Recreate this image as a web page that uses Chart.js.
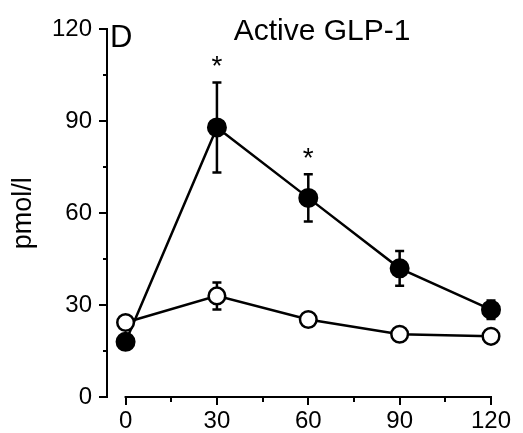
<!DOCTYPE html>
<html>
<head>
<meta charset="utf-8">
<script src="https://cdn.jsdelivr.net/npm/chart.js@4"></script>
<style>
  html, body { margin: 0; padding: 0; background: #fff; }
  #wrap { width: 523px; height: 433px; }
</style>
</head>
<body>
<div id="wrap"><canvas id="glp" width="523" height="433"></canvas></div>
<script>
// minutes after the meal
const times = [0, 30, 60, 90, 120];
// filled circles
const filledMean = [18, 88, 65, 42, 28.5];
const filledErr = [0, 14.7, 7.7, 5.7, 3];
// open circles
const openMean = [24.3, 33, 25.3, 20.5, 19.8];
const openErr = [0, 4.4, 0, 0, 0];
// significance stars (on the filled series)
const starTimes = [30, 60];

const xTicks = [0, 30, 60, 90, 120];
const xMinor = [15, 45, 75, 105];
const yTicks = [0, 30, 60, 90, 120];
const yMinor = [15, 45, 75, 105];

const FONT = "'Liberation Sans', Arial, sans-serif";

function toPoints(ys) {
    return times.map((t, i) => ({ x: t, y: ys[i] }));
}

// axes, error bars, stars and the panel texts
const extras = {
    id: 'extras',
    beforeDatasetsDraw(chart) {
        const ctx = chart.ctx;
        const xs = chart.scales.x;
        const ys = chart.scales.y;
        const area = chart.chartArea;
        ctx.save();
        ctx.strokeStyle = '#000';
        ctx.lineWidth = 2;

        // x axis line only from 0 to 120
        ctx.beginPath();
        ctx.moveTo(xs.getPixelForValue(0) - 1, area.bottom);
        ctx.lineTo(xs.getPixelForValue(120) + 1, area.bottom);
        ctx.stroke();

        ctx.beginPath();
        xTicks.forEach(v => {
            const px = Math.round(xs.getPixelForValue(v));
            ctx.moveTo(px, area.bottom);
            ctx.lineTo(px, area.bottom + 8);
        });
        xMinor.forEach(v => {
            const px = Math.round(xs.getPixelForValue(v));
            ctx.moveTo(px, area.bottom);
            ctx.lineTo(px, area.bottom + 5);
        });
        yTicks.forEach(v => {
            const py = Math.round(ys.getPixelForValue(v));
            ctx.moveTo(area.left, py);
            ctx.lineTo(area.left - 8, py);
        });
        yMinor.forEach(v => {
            const py = Math.round(ys.getPixelForValue(v));
            ctx.moveTo(area.left, py);
            ctx.lineTo(area.left - 4, py);
        });
        ctx.stroke();

        // error bars, under the markers
        ctx.lineWidth = 2.5;
        [[filledMean, filledErr], [openMean, openErr]].forEach(([mean, err]) => {
            times.forEach((t, i) => {
                if (!err[i]) return;
                const px = xs.getPixelForValue(t);
                const top = ys.getPixelForValue(mean[i] + err[i]);
                const bot = ys.getPixelForValue(mean[i] - err[i]);
                ctx.beginPath();
                ctx.moveTo(px, top);
                ctx.lineTo(px, bot);
                ctx.moveTo(px - 4.5, top);
                ctx.lineTo(px + 4.5, top);
                ctx.moveTo(px - 4.5, bot);
                ctx.lineTo(px + 4.5, bot);
                ctx.stroke();
            });
        });
        ctx.restore();
    },
    afterDatasetsDraw(chart) {
        const ctx = chart.ctx;
        const xs = chart.scales.x;
        const ys = chart.scales.y;
        ctx.save();
        ctx.fillStyle = '#000';
        ctx.textBaseline = 'alphabetic';

        ctx.font = `28px ${FONT}`;
        ctx.textAlign = 'center';
        starTimes.forEach(t => {
            const i = times.indexOf(t);
            const top = ys.getPixelForValue(filledMean[i] + filledErr[i]);
            ctx.fillText('*', xs.getPixelForValue(t), top - 7);
        });

        ctx.font = `31px ${FONT}`;
        ctx.textAlign = 'left';
        ctx.fillText('D', 110, 47);
        ctx.font = `30px ${FONT}`;
        ctx.textAlign = 'center';
        ctx.fillText('Active GLP-1', 322, 40);
        ctx.restore();
    }
};

new Chart(document.getElementById('glp'), {
    type: 'line',
    data: {
        datasets: [
            {
                label: 'open',
                data: toPoints(openMean),
                borderColor: '#000',
                borderWidth: 2.5,
                pointRadius: 8.3,
                pointBorderWidth: 2.5,
                pointBackgroundColor: '#fff',
                pointBorderColor: '#000',
                tension: 0,
                clip: false,
                order: 1
            },
            {
                label: 'filled',
                data: toPoints(filledMean),
                borderColor: '#000',
                borderWidth: 2.5,
                pointRadius: 9,
                pointBorderWidth: 2,
                pointBackgroundColor: '#000',
                pointBorderColor: '#000',
                tension: 0,
                clip: false,
                order: 2
            }
        ]
    },
    options: {
        responsive: false,
        animation: false,
        layout: { padding: { left: 0, top: 22, right: 32, bottom: 0 } },
        plugins: {
            legend: { display: false },
            tooltip: { enabled: false }
        },
        scales: {
            x: {
                type: 'linear',
                min: -6.1,
                max: 120,
                afterBuildTicks: axis => { axis.ticks = xTicks.map(v => ({ value: v })); },
                afterFit: axis => { axis.height = 36; },
                grid: { display: false, drawTicks: false },
                border: { display: false },
                ticks: {
                    color: '#000',
                    padding: 10,
                    maxRotation: 0,
                    font: { family: FONT, size: 24 }
                }
            },
            y: {
                min: 0,
                max: 120,
                afterBuildTicks: axis => { axis.ticks = yTicks.map(v => ({ value: v })); },
                afterFit: axis => { axis.width = 107; },
                grid: { display: false, drawTicks: false },
                border: { display: true, color: '#000', width: 2 },
                title: {
                    display: true,
                    text: 'pmol/l',
                    color: '#000',
                    padding: { top: 7, bottom: 0 },
                    font: { family: FONT, size: 27 }
                },
                ticks: {
                    color: '#000',
                    padding: 15,
                    font: { family: FONT, size: 24 }
                }
            }
        }
    },
    plugins: [extras]
});
</script>
</body>
</html>
